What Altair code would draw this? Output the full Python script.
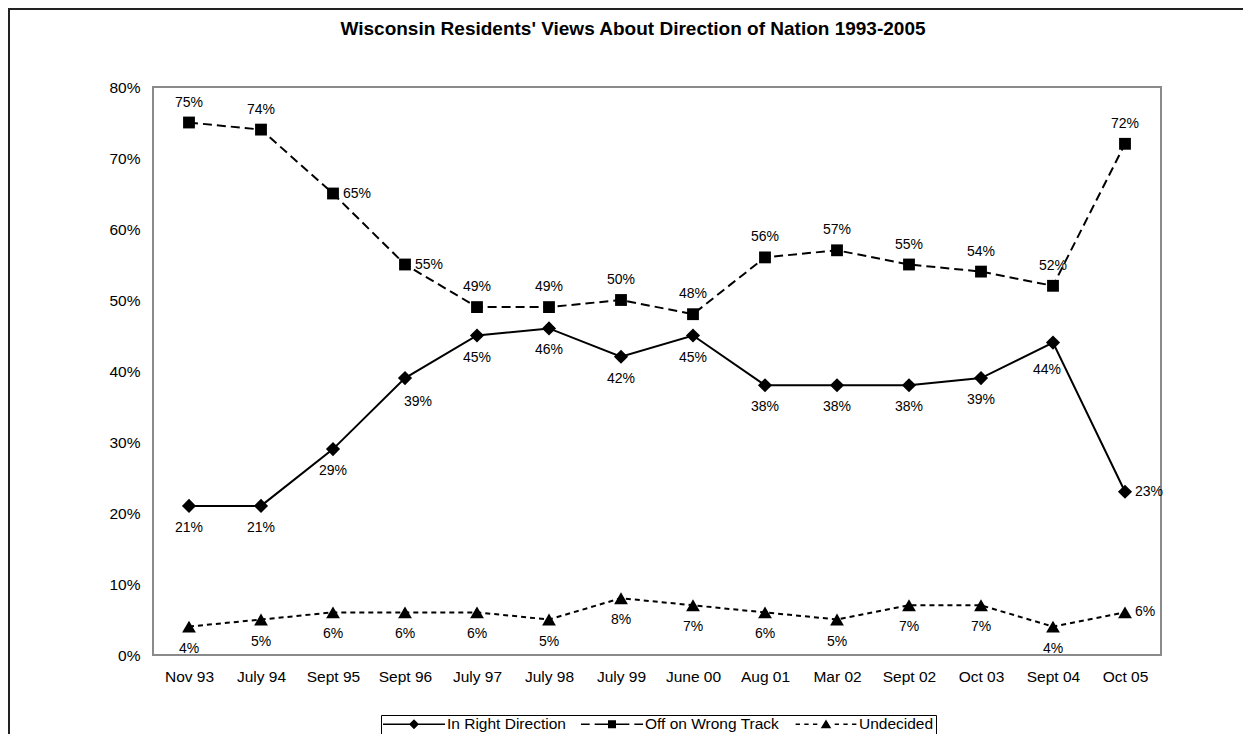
import altair as alt
import pandas as pd

# ---------------- data ----------------
dates = ["Nov 93", "July 94", "Sept 95", "Sept 96", "July 97", "July 98", "July 99",
         "June 00", "Aug 01", "Mar 02", "Sept 02", "Oct 03", "Sept 04", "Oct 05"]
right_direction = [21, 21, 29, 39, 45, 46, 42, 45, 38, 38, 38, 39, 44, 23]
wrong_track = [75, 74, 65, 55, 49, 49, 50, 48, 56, 57, 55, 54, 52, 72]
undecided = [4, 5, 6, 6, 6, 5, 8, 7, 6, 5, 7, 7, 4, 6]
series_names = ["In Right Direction", "Off on Wrong Track", "Undecided"]
y_ticks = [0, 0.1, 0.2, 0.3, 0.4, 0.5, 0.6, 0.7, 0.8]

# label placement (style)
above_series = {"Off on Wrong Track"}
right_labels = {("Off on Wrong Track", "Sept 95"), ("Off on Wrong Track", "Sept 96"),
                ("In Right Direction", "Oct 05"), ("Undecided", "Oct 05")}
below_right_labels = {("In Right Direction", "Sept 96")}
below_left_labels = {("In Right Direction", "Sept 04")}

rows = []
for name, vals in zip(series_names, [right_direction, wrong_track, undecided]):
    for d, v in zip(dates, vals):
        if (name, d) in right_labels:
            pos = "right"
        elif (name, d) in below_right_labels:
            pos = "belowright"
        elif (name, d) in below_left_labels:
            pos = "belowleft"
        elif name in above_series:
            pos = "above"
        else:
            pos = "below"
        rows.append({"date": d, "series": name, "value": v / 100, "label": f"{v}%", "pos": pos})
df = pd.DataFrame(rows)

FONT = "Liberation Sans"

x_enc = alt.X("date:N", sort=dates, scale=alt.Scale(padding=0.5),
              axis=alt.Axis(title=None, labelAngle=0, ticks=False, domain=False,
                            labelPadding=14, labelFontSize=15.5, labelFont=FONT,
                            labelColor="black"))
y_enc = alt.Y("value:Q", scale=alt.Scale(domain=[0, 0.8], nice=False),
              axis=alt.Axis(title=None, values=y_ticks, format=".0%", grid=False,
                            ticks=False, domain=False, labelPadding=13,
                            labelFontSize=15.5, labelFont=FONT, labelColor="black"))

base = alt.Chart(df).encode(x=x_enc, y=y_enc)

# decorative outer frame
frame = alt.Chart(alt.Data(values=[{}])).mark_rect(
    fill="transparent", stroke="#222222", strokeWidth=2
).encode(x=alt.value(-144), x2=alt.value(3000), y=alt.value(-78), y2=alt.value(3000))

dashes = {"In Right Direction": None, "Off on Wrong Track": [9, 5], "Undecided": [5, 4]}
shapes = {"In Right Direction": "diamond", "Off on Wrong Track": "square", "Undecided": "triangle-up"}
sizes = {"In Right Direction": 200, "Off on Wrong Track": 140, "Undecided": 190}

layers = [frame]
for name in series_names:
    kw = dict(color="black", strokeWidth=2)
    if dashes[name]:
        kw["strokeDash"] = dashes[name]
    layers.append(base.transform_filter(alt.datum.series == name).mark_line(**kw))
for name in series_names:
    layers.append(base.transform_filter(alt.datum.series == name).mark_point(
        shape=shapes[name], filled=True, size=sizes[name], color="black", opacity=1))

txt = dict(font=FONT, fontSize=14, color="black", baseline="middle")
lab = base.encode(text="label:N")
layers.append(lab.transform_filter(alt.datum.pos == "below").mark_text(dy=22, **txt))
layers.append(lab.transform_filter(alt.datum.pos == "above").mark_text(dy=-20, **txt))
layers.append(lab.transform_filter(alt.datum.pos == "right").mark_text(dx=10, align="left", **txt))
layers.append(lab.transform_filter(alt.datum.pos == "belowright").mark_text(dx=13, dy=24, **txt))
layers.append(lab.transform_filter(alt.datum.pos == "belowleft").mark_text(dx=-6, dy=27, **txt))


# legend symbols: line (as thin filled bars) + marker, as custom symbol paths
def bars(segments, h=0.026):
    return "".join(f"M{a},{-h}H{b}V{h}H{a}Z" for a, b in segments)


leg_paths = [
    bars([(-1, 1)]) + "M0,-0.16L0.16,0L0,0.16L-0.16,0Z",
    bars([(-1, -0.72), (-0.56, -0.12), (0.12, 0.56), (0.72, 1)]) + "M-0.13,-0.13H0.13V0.13H-0.13Z",
    bars([(-0.98, -0.84), (-0.7, -0.56), (-0.42, -0.28), (0.28, 0.42), (0.56, 0.7), (0.84, 0.98)])
    + "M0,-0.15L0.17,0.13L-0.17,0.13Z",
]
legend_layer = alt.Chart(df).transform_filter("false").mark_point(
    filled=True, color="black", opacity=1, size=3844
).encode(
    x=x_enc, y=y_enc,
    shape=alt.Shape("series:N", scale=alt.Scale(domain=series_names, range=leg_paths),
                    legend=alt.Legend(
                        title=None, orient="none", direction="horizontal",
                        legendX=228, legendY=628,
                        strokeColor="black", fillColor="white", padding=2,
                        labelFont=FONT, labelFontSize=15.5, labelColor="black",
                        symbolSize=3844, symbolStrokeWidth=0,
                        symbolFillColor="black",
                        symbolOpacity=1, clipHeight=14, columnPadding=15,
                        labelOffset=2, labelLimit=0))
)
layers.append(legend_layer)

chart = alt.layer(*layers).properties(
    width=1008, height=568,
    autosize=alt.AutoSizeParams(type="none"),
    padding={"left": 145, "top": 79, "right": 82, "bottom": 79},
    background="white",
    title=alt.Title("Wisconsin Residents' Views About Direction of Nation 1993-2005",
                    font=FONT, fontSize=19, fontWeight="bold", color="black",
                    anchor="middle", frame="group", dx=-24, offset=-46,
                    baseline="alphabetic")
).configure_view(stroke="#8a8a8a", strokeWidth=2)

chart.save("out.html", embed_options={"renderer": "svg", "actions": False})
